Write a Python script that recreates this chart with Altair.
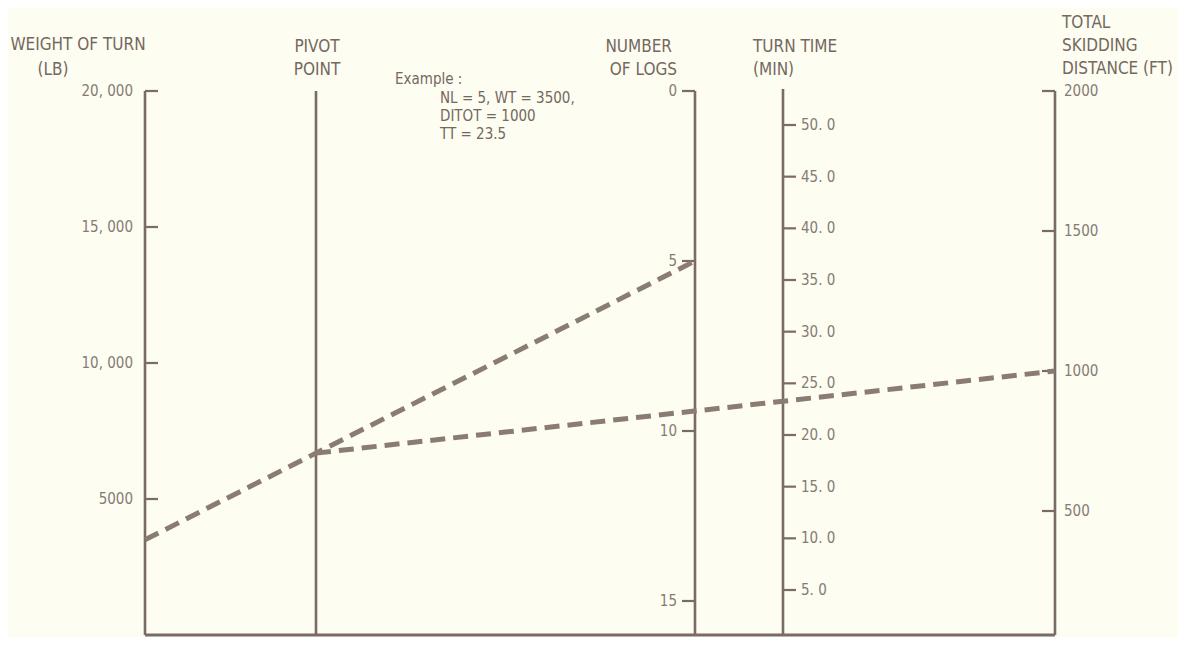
import altair as alt
import pandas as pd

# ---------------- data ----------------
WEIGHT_TICKS = [5000, 10000, 15000, 20000]
WEIGHT_LABELS = ["5000", "10, 000", "15, 000", "20, 000"]
LOG_TICKS = [0, 5, 10, 15]
LOG_LABELS = ["0", "5", "10", "15"]
TIME_TICKS = [5, 10, 15, 20, 25, 30, 35, 40, 45, 50]
TIME_LABELS = ["5. 0", "10. 0", "15. 0", "20. 0", "25. 0",
               "30. 0", "35. 0", "40. 0", "45. 0", "50. 0"]
DIST_TICKS = [500, 1000, 1500, 2000]
DIST_LABELS = ["500", "1000", "1500", "2000"]

EX_NL = 5
EX_WT = 3500
EX_DIST = 1000
EX_TT = 23.5
EXAMPLE_LINES = ["Example :", "NL = 5, WT = 3500,", "DITOT = 1000", "TT = 23.5"]

TITLE_WEIGHT = ["WEIGHT OF TURN", "(LB)"]
TITLE_PIVOT = ["PIVOT", "POINT"]
TITLE_LOGS = ["NUMBER", "OF LOGS"]
TITLE_TIME = ["TURN TIME", "(MIN)"]
TITLE_DIST = ["TOTAL", "SKIDDING", "DISTANCE (FT)"]

# ---------------- layout of the nomogram frame ----------------
BASE_Y = 635
TOP_Y = 91
X_W, X_P, X_L, X_T, X_D = 145, 316, 695, 783, 1055
TICK = 13

def y_weight(v):   # 0 lb at the baseline, 20,000 lb at the top
    return BASE_Y - v * (BASE_Y - TOP_Y) / 20000.0

def y_logs(n):     # 0 logs at the top, 15 logs at 601
    return TOP_Y + n * (601 - TOP_Y) / 15.0

def y_time(t):     # 5.0 min at 590, 50.0 min at 125
    return 590 - (t - 5) * (590 - 125) / 45.0

def y_dist(d):     # 2000 ft at the top, 1000 ft at 371
    return TOP_Y + (2000 - d) * (371 - TOP_Y) / 1000.0

LINE = "#7a6b64"
DASH = "#8a7b73"
TXT = "#74685f"
TXT_LIGHT = "#857b75"
BG = "#fdfdf1"
FONT = "DejaVu Sans Condensed, Liberation Sans Narrow, sans-serif"

# ---------------- tables built from the arrays ----------------
axes = pd.DataFrame({
    "x": [X_W, X_P, X_L, X_T, X_D],
    "y": [TOP_Y, TOP_Y, TOP_Y, 89, TOP_Y],
    "y2": [BASE_Y] * 5,
})
base = pd.DataFrame({"x": [X_W], "x2": [X_D], "y": [BASE_Y]})

ticks = []
labels = []
for v, lab in zip(WEIGHT_TICKS, WEIGHT_LABELS):
    y = y_weight(v)
    ticks.append({"x": X_W, "x2": X_W + TICK, "y": y})
    labels.append({"x": X_W - 12, "y": y, "t": lab, "side": "r"})
for v, lab in zip(LOG_TICKS, LOG_LABELS):
    y = y_logs(v)
    ticks.append({"x": X_L - TICK, "x2": X_L, "y": y})
    labels.append({"x": X_L - TICK - 5, "y": y, "t": lab, "side": "r"})
for v, lab in zip(TIME_TICKS, TIME_LABELS):
    y = y_time(v)
    ticks.append({"x": X_T, "x2": X_T + TICK, "y": y})
    labels.append({"x": X_T + TICK + 5, "y": y, "t": lab, "side": "l"})
for v, lab in zip(DIST_TICKS, DIST_LABELS):
    y = y_dist(v)
    ticks.append({"x": X_D - TICK, "x2": X_D, "y": y})
    labels.append({"x": X_D + 9, "y": y, "t": lab, "side": "l"})
ticks = pd.DataFrame(ticks)
labels = pd.DataFrame(labels)

titles = pd.DataFrame([
    {"x": 78, "y": 45, "t": TITLE_WEIGHT[0], "side": "c"},
    {"x": 53, "y": 70, "t": TITLE_WEIGHT[1], "side": "c"},
    {"x": 317, "y": 47, "t": TITLE_PIVOT[0], "side": "c"},
    {"x": 317, "y": 70, "t": TITLE_PIVOT[1], "side": "c"},
    {"x": 672, "y": 47, "t": TITLE_LOGS[0], "side": "r"},
    {"x": 677, "y": 70, "t": TITLE_LOGS[1], "side": "r"},
    {"x": 753, "y": 47, "t": TITLE_TIME[0], "side": "l"},
    {"x": 753, "y": 70, "t": TITLE_TIME[1], "side": "l"},
    {"x": 1062, "y": 23, "t": TITLE_DIST[0], "side": "l"},
    {"x": 1062, "y": 46, "t": TITLE_DIST[1], "side": "l"},
    {"x": 1062, "y": 69, "t": TITLE_DIST[2], "side": "l"},
])

example = pd.DataFrame({
    "x": [395, 440, 440, 440],
    "y": [79, 98, 116, 134],
    "t": EXAMPLE_LINES,
})

# example solution lines: weight -> logs, through the pivot; pivot -> distance
wx, wy = X_W, y_weight(EX_WT)
lx, ly = X_L, y_logs(EX_NL)
py = wy + (X_P - wx) / (lx - wx) * (ly - wy)
dx, dy = X_D, y_dist(EX_DIST)
dashes = pd.DataFrame({
    "x": [wx, X_P], "y": [wy, py], "x2": [lx, dx], "y2": [ly, dy],
})

# ---------------- chart ----------------
XS = alt.Scale(domain=[8, 1178], nice=False, zero=False)
YS = alt.Scale(domain=[8, 637], nice=False, zero=False, reverse=True)
X = alt.X("x:Q", scale=XS, axis=None)
Y = alt.Y("y:Q", scale=YS, axis=None)

axis_layer = alt.Chart(axes).mark_rule(color=LINE, strokeWidth=2.6).encode(
    x=X, y=Y, y2="y2:Q")
base_layer = alt.Chart(base).mark_rule(color=LINE, strokeWidth=3).encode(
    x=X, x2="x2:Q", y=Y)
tick_layer = alt.Chart(ticks).mark_rule(color=LINE, strokeWidth=2.2).encode(
    x=X, x2="x2:Q", y=Y)
dash_layer = alt.Chart(dashes).mark_rule(
    color=DASH, strokeWidth=5, strokeDash=[15, 8]).encode(
    x=X, y=Y, x2="x2:Q", y2="y2:Q")

def text_layer(df, align, size, color=TXT):
    return alt.Chart(df).mark_text(
        align=align, baseline="middle", font=FONT, fontSize=size, color=color
    ).encode(x=X, y=Y, text="t:N")

lab_r = text_layer(labels[labels.side == "r"], "right", 15, TXT_LIGHT)
lab_l = text_layer(labels[labels.side == "l"], "left", 15, TXT_LIGHT)
tit_c = text_layer(titles[titles.side == "c"], "center", 17)
tit_r = text_layer(titles[titles.side == "r"], "right", 17)
tit_l = text_layer(titles[titles.side == "l"], "left", 17)
ex_l = text_layer(example, "left", 15)

chart = alt.layer(
    axis_layer, base_layer, tick_layer, dash_layer,
    lab_r, lab_l, tit_c, tit_r, tit_l, ex_l,
).properties(
    width=1170, height=629, padding=0, background=BG,
).configure_view(strokeWidth=0)

chart.save("out.html", embed_options={"renderer": "svg", "actions": False})
